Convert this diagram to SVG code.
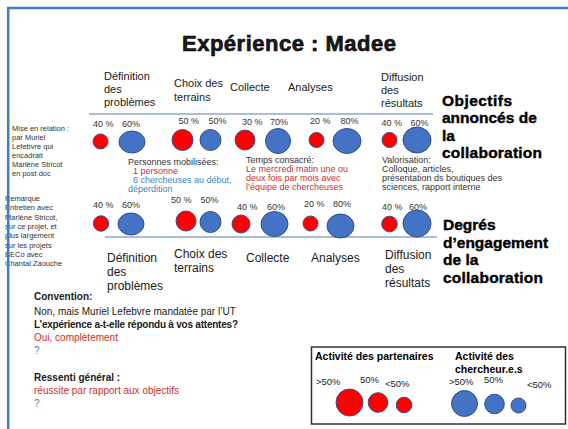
<svg xmlns="http://www.w3.org/2000/svg" width="568" height="429" viewBox="0 0 568 429">
<style>
text{font-family:"Liberation Sans",Arial,sans-serif;fill:#1a1a1a}
.hd{font-size:11px}
.hd2{font-size:12px}
.pc{font-size:9px;fill:#333}
.big{font-weight:bold;font-size:15.5px;fill:#000;stroke:#000;stroke-width:0.4}
.sm{font-size:7.5px;fill:#333}
.mid{font-size:9px;fill:#333}
.red{fill:#c8302c}
.blu{fill:#4a7ebb}
.teal{fill:#3a86be}
.bt{font-size:10px}
.b{font-weight:bold}
.rc{fill:#ff0000;stroke:#3b4f8a;stroke-width:1}
.bc{fill:#4472c4;stroke:#2f4f8a;stroke-width:1}
.sep{stroke:#a9bcd8;stroke-width:2}
.lg{font-size:10.5px;font-weight:bold;fill:#000}
.lp{font-size:9.5px;fill:#222}
</style>
<rect width="568" height="429" fill="#fff"/>

<g id="title"><text x="289" y="51" text-anchor="middle" font-size="22" font-weight="bold" fill="#000" stroke="#000" stroke-width="0.6" textLength="214">Expérience : Madee</text></g>

<g id="connectors">
<line class="sep" x1="89" y1="114" x2="433" y2="114"/>
<line class="sep" x1="105" y1="237" x2="437" y2="237"/>
</g>

<g id="headers-top">
<text class="hd" x="104" y="80">Définition<tspan x="104" dy="13">des</tspan><tspan x="104" dy="13">problèmes</tspan></text>
<text class="hd" x="174" y="87">Choix des<tspan x="174" dy="14">terrains</tspan></text>
<text class="hd" x="230" y="91">Collecte</text>
<text class="hd" x="288" y="91" font-size="10">Analyses</text>
<text class="hd" x="381" y="81">Diffusion<tspan x="381" dy="13">des</tspan><tspan x="381" dy="13">résultats</tspan></text>
</g>

<g id="objectifs">
<text class="big" x="442" y="106" textLength="70">Objectifs</text>
<text class="big" x="442" y="123.3">annoncés de</text>
<text class="big" x="442" y="140.6">la</text>
<text class="big" x="442" y="157.9" textLength="100">collaboration</text>
</g>

<g id="row1">
<text class="pc" x="93" y="127">40 %</text><text class="pc" x="122" y="127">60%</text>
<circle class="rc" cx="100.5" cy="141.5" r="7.5"/>
<ellipse class="bc" cx="132" cy="142" rx="13" ry="11"/>
<text class="pc" x="178.5" y="124">50 %</text><text class="pc" x="208.5" y="124">50%</text>
<circle class="rc" cx="182.5" cy="140" r="10.5"/>
<circle class="bc" cx="210.5" cy="140" r="10.5"/>
<text class="pc" x="242" y="125">30 %</text><text class="pc" x="270" y="125">70%</text>
<circle class="rc" cx="245" cy="140" r="10"/>
<ellipse class="bc" cx="278" cy="141" rx="12.5" ry="12.5"/>
<text class="pc" x="310" y="124">20 %</text><text class="pc" x="340.5" y="124">80%</text>
<circle class="rc" cx="316.5" cy="140" r="7.5"/>
<ellipse class="bc" cx="347" cy="141" rx="14" ry="12.5"/>
<text class="pc" x="381.5" y="126">40 %</text><text class="pc" x="410.5" y="126">60%</text>
<circle class="rc" cx="389.5" cy="140" r="7.5"/>
<ellipse class="bc" cx="417" cy="140" rx="14" ry="13"/>
</g>

<g id="mise-en-relation">
<text class="sm" x="12" y="130.5">Mise en relation :<tspan x="12" dy="9">par Muriel</tspan><tspan x="12" dy="9">Lefebvre qui</tspan><tspan x="12" dy="9">encadrait</tspan><tspan x="12" dy="9">Marlène Stricot</tspan><tspan x="12" dy="9">en post doc</tspan></text>
</g>

<g id="remarque">
<text class="sm" x="5" y="201">Remarque<tspan x="5" dy="9.3">Entretien avec</tspan><tspan x="5" dy="9.3">Marlène Stricot,</tspan><tspan x="5" dy="9.3">sur ce projet, et</tspan><tspan x="5" dy="9.3">plus largement</tspan><tspan x="5" dy="9.3">sur les projets</tspan><tspan x="5" dy="9.3">BECo avec</tspan><tspan x="5" dy="9.3">Chantal Zaouche</tspan></text>
</g>

<g id="personnes">
<text class="mid" x="128" y="165">Personnes mobilisées:<tspan class="red" x="133" dy="9">1  personne</tspan><tspan class="teal" x="133" dy="9">6  chercheuses au début,</tspan><tspan class="teal" x="128" dy="9">déperdition</tspan></text>
</g>

<g id="temps">
<text class="mid" x="246" y="163">Temps consacré:<tspan class="red" x="246" dy="9">Le mercredi matin une ou</tspan><tspan class="red" x="246" dy="9">deux fois par mois avec</tspan><tspan class="red" x="246" dy="9">l’équipe de chercheuses</tspan></text>
</g>

<g id="valorisation">
<text class="mid" x="382" y="163">Valorisation:<tspan x="382" dy="9">Colloque, articles,</tspan><tspan x="382" dy="9">présentation ds boutiques des</tspan><tspan x="382" dy="9">sciences, rapport interne</tspan></text>
</g>

<g id="row2">
<text class="pc" x="93" y="208">40 %</text><text class="pc" x="122" y="208">60%</text>
<circle class="rc" cx="101" cy="223.5" r="7.7"/>
<ellipse class="bc" cx="131" cy="224" rx="13" ry="11"/>
<text class="pc" x="171" y="203">50 %</text><text class="pc" x="200.5" y="203">50%</text>
<circle class="rc" cx="186" cy="221" r="10"/>
<circle class="bc" cx="210.5" cy="222" r="10.5"/>
<text class="pc" x="237" y="210">40 %</text><text class="pc" x="267" y="210">60%</text>
<circle class="rc" cx="241" cy="224" r="9"/>
<ellipse class="bc" cx="274.5" cy="224" rx="13.5" ry="12.5"/>
<text class="pc" x="304" y="207">20 %</text><text class="pc" x="333" y="207">80%</text>
<circle class="rc" cx="310.5" cy="223.5" r="7.5"/>
<ellipse class="bc" cx="340.5" cy="226" rx="13.5" ry="12"/>
<text class="pc" x="382" y="210">40 %</text><text class="pc" x="409" y="210">60%</text>
<circle class="rc" cx="389.5" cy="224" r="7.8"/>
<ellipse class="bc" cx="417" cy="223.5" rx="14" ry="13.5"/>
</g>

<g id="degres">
<text class="big" x="443" y="230">Degrés</text>
<text class="big" x="443" y="247.5">d’engagement</text>
<text class="big" x="443" y="265">de la</text>
<text class="big" x="443" y="282.5" textLength="100">collaboration</text>
</g>

<g id="headers-bottom">
<text class="hd2" x="107" y="262">Définition<tspan x="107" dy="14">des</tspan><tspan x="107" dy="14">problèmes</tspan></text>
<text class="hd2" x="174" y="258">Choix des<tspan x="174" dy="14">terrains</tspan></text>
<text class="hd2" x="246" y="262">Collecte</text>
<text class="hd2" x="311" y="262">Analyses</text>
<text class="hd2" x="385" y="259">Diffusion<tspan x="385" dy="14">des</tspan><tspan x="385" dy="14">résultats</tspan></text>
</g>

<g id="bilan">
<text class="bt b" x="34" y="300">Convention:</text>
<text class="bt" x="34" y="315">Non, mais Muriel Lefebvre mandatée par l’UT</text>
<text class="bt b" x="34" y="328" textLength="204">L’expérience a-t-elle répondu à vos attentes?</text>
<text class="bt red" x="34" y="341">Oui, complètement</text>
<text class="bt blu" x="34" y="354">?</text>
<text class="bt b" x="34" y="381">Ressenti général :</text>
<text class="bt red" x="34" y="394">réussite par rapport aux objectifs</text>
<text class="bt blu" x="34" y="407">?</text>
</g>

<g id="legend">
<rect x="311.5" y="347" width="254" height="77" fill="#fff" stroke="#333" stroke-width="1.5"/>
<text class="lg" x="315" y="360">Activité des partenaires</text>
<text class="lg" x="455" y="360">Activité des<tspan x="455" dy="13">chercheur.e.s</tspan></text>
<text class="lp" x="316" y="385">&gt;50%</text>
<text class="lp" x="360" y="383">50%</text>
<text class="lp" x="385" y="387">&lt;50%</text>
<text class="lp" x="449" y="385">&gt;50%</text>
<text class="lp" x="484" y="383">50%</text>
<text class="lp" x="527" y="388">&lt;50%</text>
<circle class="rc" cx="349.5" cy="402.5" r="13.5"/>
<circle class="rc" cx="378" cy="402.5" r="9.8"/>
<circle class="rc" cx="404" cy="405" r="7.8"/>
<circle class="bc" cx="464.5" cy="403.5" r="13"/>
<circle class="bc" cx="494.5" cy="404" r="9.8"/>
<circle class="bc" cx="518.5" cy="405.5" r="7.5"/>
</g>

<g id="frame">
<line x1="7" y1="8" x2="568" y2="8" stroke="#3d7fc4" stroke-width="2.5"/>
<line x1="8.2" y1="7" x2="8.2" y2="429" stroke="#3d7fc4" stroke-width="2.5"/>
</g>
</svg>
